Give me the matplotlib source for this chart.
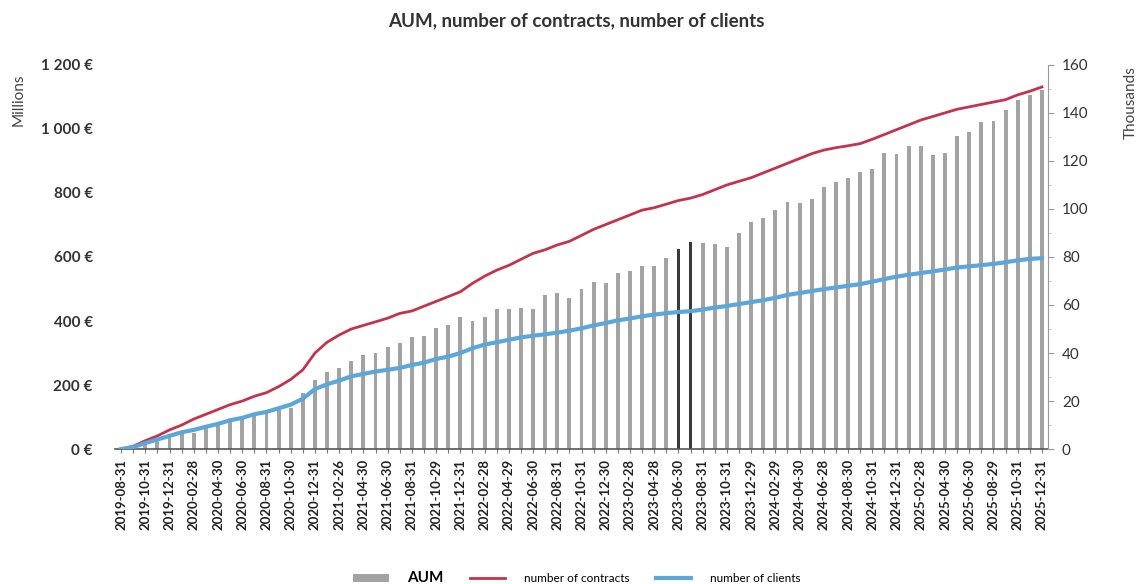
"""AUM, number of contracts and number of clients, monthly."""
import numpy as np
import pandas as pd
import matplotlib
matplotlib.use('Agg')
import matplotlib.pyplot as plt

plt.rcParams['font.family'] = ['Lato', 'DejaVu Sans']

# month-end dates on the x axis (first one is a calendar month end, the rest business month ends)
dates = ['2019-08-31'] + pd.date_range('2019-09-01', periods=76, freq='BME').strftime('%Y-%m-%d').tolist()

# AUM, millions of euro
aum = [0, 4, 15, 28, 38, 51, 49, 70, 75, 88, 93, 104, 117, 124, 127, 176,
       216, 240, 254, 276, 293, 301, 318, 332, 351, 353, 377, 388, 413, 401,
       411, 436, 436, 440, 436, 481, 489, 471, 499, 523, 518, 551, 557, 572,
       573, 596, 624, 646, 645, 641, 632, 676, 708, 721, 747, 772, 768, 781,
       818, 835, 846, 864, 875, 926, 921, 948, 945, 919, 924, 979, 990, 1020,
       1025, 1059, 1091, 1106, 1120]

# number of contracts, thousands
contracts = [0, 1.2, 3.5, 5.5, 8, 10, 12.5, 14.5, 16.5, 18.5, 20, 22, 23.5,
             26, 29, 33, 40, 44.5, 47.5, 50, 51.5, 53, 54.5, 56.5, 57.5, 59.5,
             61.5, 63.5, 65.5, 69, 72, 74.5, 76.5, 79, 81.5, 83, 85, 86.5, 89,
             91.5, 93.5, 95.5, 97.5, 99.5, 100.5, 102, 103.5, 104.5, 106, 108,
             110, 111.5, 113, 115, 117, 119, 121, 123, 124.5, 125.5, 126.3,
             127.2, 129, 131, 133, 135, 137, 138.5, 140, 141.5, 142.5, 143.5,
             144.5, 145.5, 147.5, 149, 150.8]

# number of clients, thousands
clients = [0, 0.8, 2.5, 4, 5.5, 7, 8, 9.3, 10.5, 12, 13, 14.5, 15.5, 17, 18.5,
           21, 25, 27, 28.5, 30.3, 31.3, 32.3, 33, 33.8, 35, 36, 37.5, 38.5, 40,
           42, 43.5, 44.5, 45.5, 46.5, 47.2, 47.8, 48.5, 49.3, 50.3, 51.5, 52.5,
           53.6, 54.4, 55.3, 56, 56.6, 57.1, 57.4, 58.1, 58.9, 59.6, 60.4, 61.2,
           62, 63, 64.2, 65, 65.8, 66.6, 67.3, 68, 68.7, 69.7, 70.8, 71.8, 72.6,
           73.3, 74, 74.8, 75.6, 76.1, 76.6, 77.1, 77.8, 78.6, 79.2, 79.5]

dark_months = ['2023-06-30', '2023-07-31']

x = np.arange(len(dates))
bar_colors = ['#3a3a3a' if d in dark_months else '#a3a3a3' for d in dates]

fig = plt.figure(figsize=(11.42, 5.84), dpi=100)
ax = fig.add_axes([0.1007, 0.231, 0.817, 0.658])
ax2 = ax.twinx()

ax.bar(x, aum, width=0.32, color=bar_colors, label='AUM', zorder=2)
l1, = ax2.plot(x, contracts, color='#c2344d', lw=2, label='number of contracts')
l2, = ax2.plot(x, clients, color='#5ba7d9', lw=3, label='number of clients')

ax.set_xlim(-0.5, 76.5)
ax.set_ylim(0, 1200)
ax2.set_ylim(0, 160)

ax.set_yticks(range(0, 1201, 200))
ax.set_yticklabels(['0 €', '200 €', '400 €', '600 €', '800 €', '1 000 €', '1 200 €'],
                   fontsize=11, fontweight='bold', color='#333333')
ax.tick_params(axis='y', length=0, pad=16)

ax.set_xticks(x)
ax.set_xticklabels([d if i % 2 == 0 else '' for i, d in enumerate(dates)],
                   rotation=90, fontsize=9.5, fontweight='bold', color='#222222')
ax.tick_params(axis='x', length=3, color='#777777', pad=4)

for side in ('top', 'right', 'left'):
    ax.spines[side].set_visible(False)
    ax2.spines[side].set_visible(False)
ax.spines['bottom'].set_color('#555555')
ax.spines['bottom'].set_linewidth(1.2)
ax2.spines['bottom'].set_visible(False)
ax2.spines['right'].set_visible(True)
ax2.spines['right'].set_color('#999999')
ax2.spines['right'].set_linewidth(0.8)

ax2.set_yticks(range(0, 161, 20))
ax2.set_yticks(range(0, 161, 10), minor=True)
ax2.tick_params(axis='y', which='major', length=4, color='#999999', labelsize=11,
                labelcolor='#333333', pad=6)
ax2.tick_params(axis='y', which='minor', length=2, color='#bbbbbb')

fig.text(0.016, 0.83, 'Millions', rotation=90, ha='center', va='center',
         fontsize=11, color='#444444')
fig.text(0.99, 0.825, 'Thousands', rotation=90, ha='center', va='center',
         fontsize=11, color='#444444')
fig.text(0.505, 0.965, 'AUM, number of contracts, number of clients',
         ha='center', va='center', fontsize=13.5, fontweight='bold', color='#333333')

bar_handle = ax.containers[0].patches[2]
leg = fig.legend([bar_handle, l1, l2], ['AUM', 'number of contracts', 'number of clients'],
                 loc='lower center', bbox_to_anchor=(0.505, -0.02), ncol=3,
                 frameon=False, fontsize=8.5, handlelength=3, handletextpad=1.6,
                 columnspacing=2.2)
leg.get_texts()[0].set_fontsize(11)
leg.get_texts()[0].set_fontweight('bold')

fig.savefig('out.png', dpi=100)
